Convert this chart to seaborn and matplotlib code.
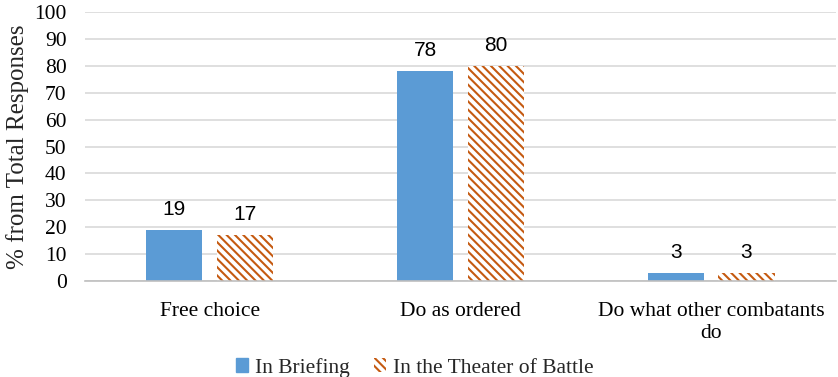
import numpy as np
import pandas as pd
import matplotlib
matplotlib.use("Agg")
import matplotlib.pyplot as plt
import seaborn as sns
from matplotlib.patches import Patch

categories = ["Free choice", "Do as ordered", "Do what other combatants\ndo"]
series = ["In Briefing", "In the Theater of Battle"]
briefing = [19, 78, 3]
battle = [17, 80, 3]

blue = "#5B9BD5"
orange = "#C55A11"

df = pd.DataFrame({
    "Category": categories * 2,
    "Series": [series[0]] * 3 + [series[1]] * 3,
    "Value": briefing + battle,
})

sns.set_style("white")
plt.rcParams["font.family"] = ["Liberation Serif", "DejaVu Serif"]
plt.rcParams["hatch.linewidth"] = 1.5
plt.rcParams["hatch.color"] = orange

fig = plt.figure(figsize=(8.38, 3.77), dpi=100)
ax = fig.add_axes([0.101, 0.2546, 0.897, 0.7135])

sns.barplot(data=df, x="Category", y="Value", hue="Series", order=categories,
            hue_order=series, palette=[blue, orange], width=0.566, gap=0.21,
            saturation=1, linewidth=0, ax=ax, legend=False)

# second series: white bars with orange diagonal hatch
for bar in ax.containers[1]:
    bar.set_facecolor("white")
    bar.set_edgecolor(orange)
    bar.set_hatch("\\\\\\\\")
    bar.set_linewidth(0)

for cont, vals in zip(ax.containers, [briefing, battle]):
    ax.bar_label(cont, labels=[str(v) for v in vals], padding=8,
                 fontsize=15, family="Liberation Sans", color="#000000")

ax.set_ylim(0, 100)
ax.set_yticks(np.arange(0, 101, 10))
ax.set_xlim(-0.5, 2.5)
ax.yaxis.grid(True, color="#d9d9d9", linewidth=1.2)
ax.set_axisbelow(True)
for s in ["top", "right", "left"]:
    ax.spines[s].set_visible(False)
ax.spines["bottom"].set_color("#bfbfbf")
ax.spines["bottom"].set_linewidth(1.2)
ax.tick_params(axis="both", length=0, labelsize=15.5, colors="black")
ax.tick_params(axis="y", pad=13)
ax.tick_params(axis="x", pad=15)
ax.set_xlabel("")
ax.set_ylabel("% from Total Responses", fontsize=18, labelpad=4)

handles = [Patch(facecolor=blue, edgecolor=blue),
           Patch(facecolor="white", edgecolor=orange, hatch="\\\\\\\\", linewidth=0)]
fig.legend(handles, series, loc="lower center", bbox_to_anchor=(0.495, -0.03),
           ncol=2, frameon=False, fontsize=15.5, handlelength=0.55,
           handleheight=0.6, handletextpad=0.35, columnspacing=1.1,
           borderpad=0.0)

fig.savefig("out.png", dpi=100)
